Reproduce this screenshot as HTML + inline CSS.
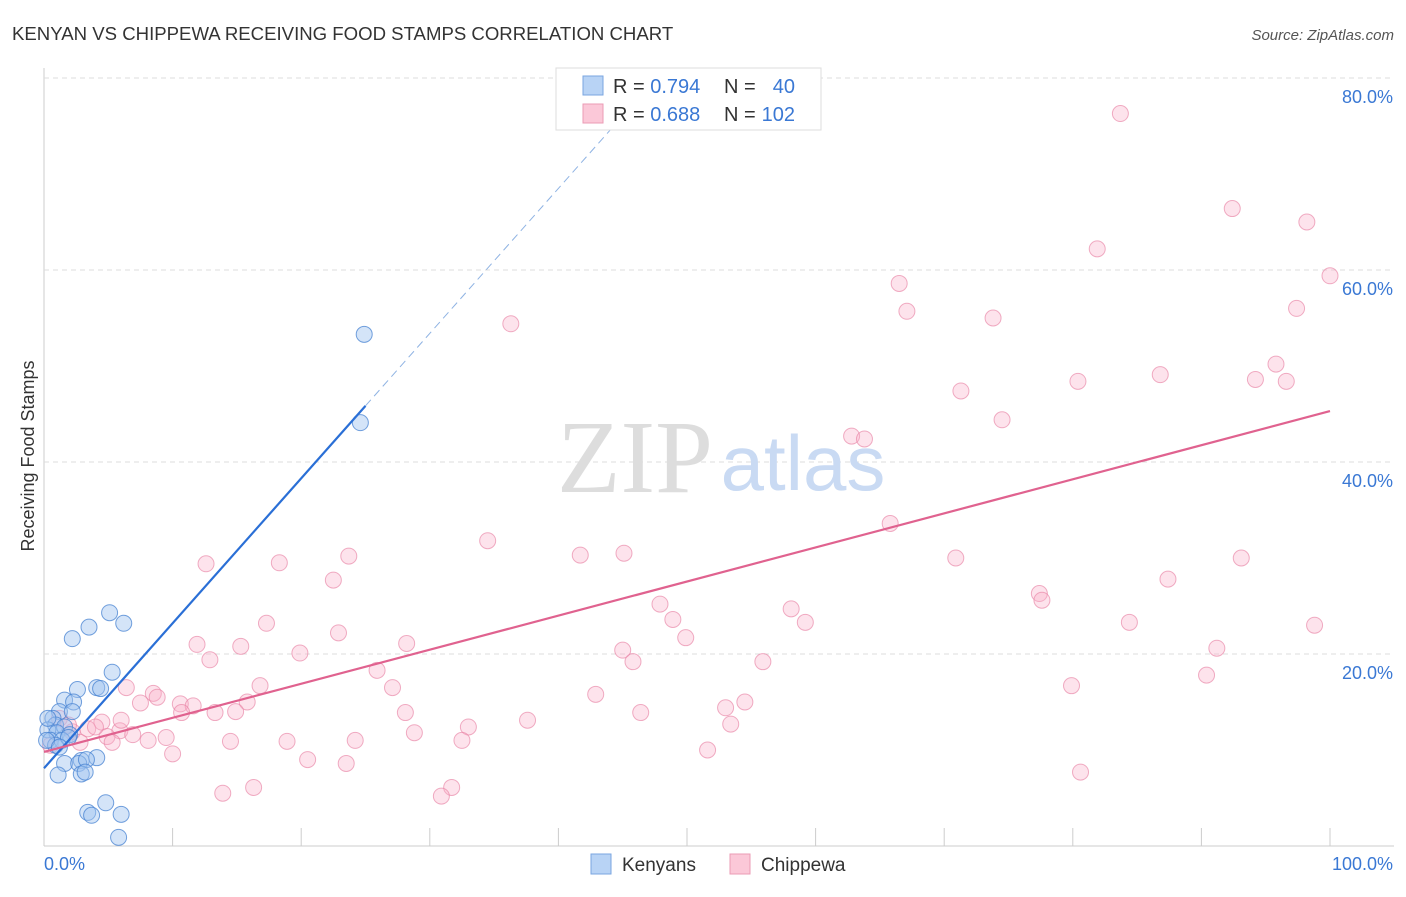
<!DOCTYPE html>
<html><head><meta charset="utf-8"><style>
body{margin:0;background:#fff;font-family:"Liberation Sans",sans-serif}
</style></head><body>
<svg id="c" width="1406" height="892" xmlns="http://www.w3.org/2000/svg">
<text x="12" y="40" font-size="18.6" fill="#333">KENYAN VS CHIPPEWA RECEIVING FOOD STAMPS CORRELATION CHART</text>
<text x="1394" y="40" font-size="15" fill="#555" font-style="italic" text-anchor="end">Source: ZipAtlas.com</text>
<text x="34" y="456" font-size="18" fill="#333" text-anchor="middle" transform="rotate(-90 34 456)">Receiving Food Stamps</text>
<g id="grid"></g>
<text x="635" y="492" font-size="104" fill="#ddd" font-family="Liberation Serif,serif" text-anchor="middle">ZIP</text>
<text x="803" y="490" font-size="78" fill="#c9daf3" text-anchor="middle">atlas</text>
<g id="pts"></g>
<g id="lines"></g>
<g>
<rect x="556" y="68" width="265" height="62" fill="#fff" stroke="#ddd"/>
<rect x="583" y="76" width="20" height="19" fill="#b8d3f5" stroke="#7aa6e0"/>
<rect x="583" y="104" width="20" height="19" fill="#fbc8d8" stroke="#eb9bb5"/>
<text x="613" y="93" font-size="20" fill="#333">R = <tspan fill="#3a78d4">0.794</tspan></text>
<text x="724" y="93" font-size="20" fill="#333">N =</text>
<text x="795" y="93" font-size="20" fill="#3a78d4" text-anchor="end">40</text>
<text x="613" y="121" font-size="20" fill="#333">R = <tspan fill="#3a78d4">0.688</tspan></text>
<text x="724" y="121" font-size="20" fill="#333">N =</text>
<text x="795" y="121" font-size="20" fill="#3a78d4" text-anchor="end">102</text>
</g>
<g>
<rect x="591" y="854" width="20" height="20" fill="#b8d3f5" stroke="#7aa6e0"/>
<text x="622" y="871" font-size="19" fill="#333">Kenyans</text>
<rect x="730" y="854" width="20" height="20" fill="#fbc8d8" stroke="#eb9bb5"/>
<text x="761" y="871" font-size="19" fill="#333">Chippewa</text>
</g>
</svg>
<script>
const yTicks=[20,40,60,80];
const xTickLabels=["0.0%","100.0%"];
const kenyanX=[24.9,24.6,5.1,6.2,3.5,2.2,5.3,4.1,4.4,2.6,1.6,2.3,1.2,2.2,0.7,0.9,1.6,0.3,1.0,2.0,0.5,1.4,0.9,2.9,1.6,4.1,2.7,3.3,1.1,2.9,3.2,4.8,3.4,3.7,6.0,5.8,0.3,0.2,1.9,1.2];
const kenyanY=[53.3,44.1,24.3,23.2,22.8,21.6,18.1,16.5,16.4,16.3,15.2,15.0,14.0,14.0,13.3,12.6,12.4,12.1,11.8,11.6,11.0,11.0,10.5,8.9,8.6,9.2,8.6,9.0,7.4,7.5,7.7,4.5,3.5,3.2,3.3,0.9,13.3,11.0,11.3,10.3];
const chipX=[83.7,92.4,98.2,81.9,100,66.5,67.1,73.8,97.4,36.3,95.8,86.8,80.4,94.2,96.6,71.3,74.5,62.8,63.8,65.8,34.5,23.7,41.7,45.1,70.9,93.1,12.6,18.3,22.5,87.4,77.4,77.6,47.9,58.1,48.9,59.2,84.4,17.3,98.8,22.9,49.9,11.9,28.2,15.3,45.0,91.2,19.9,12.9,45.8,55.9,25.9,90.4,79.9,6.4,16.8,27.1,42.9,8.5,8.8,7.5,15.8,54.5,10.6,11.6,53.0,28.1,10.7,13.3,14.9,46.4,37.6,4.5,33.0,53.4,3.4,5.9,2.2,28.8,6.9,4.9,9.5,14.5,18.9,8.1,24.2,32.5,51.6,10.0,20.5,23.5,80.6,31.7,16.3,13.9,30.9,1.2,0.5,1.9,2.8,5.3,4.0,6.0];
const chipY=[76.3,66.4,65.0,62.2,59.4,58.6,55.7,55.0,56.0,54.4,50.2,49.1,48.4,48.6,48.4,47.4,44.4,42.7,42.4,33.6,31.8,30.2,30.3,30.5,30.0,30.0,29.4,29.5,27.7,27.8,26.3,25.6,25.2,24.7,23.6,23.3,23.3,23.2,23.0,22.2,21.7,21.0,21.1,20.8,20.4,20.6,20.1,19.4,19.2,19.2,18.3,17.8,16.7,16.5,16.7,16.5,15.8,15.9,15.5,14.9,15.0,15.0,14.8,14.6,14.4,13.9,13.9,13.9,14.0,13.9,13.1,12.9,12.4,12.7,12.2,12.0,11.9,11.8,11.6,11.4,11.3,10.9,10.9,11.0,11.0,11.0,10.0,9.6,9.0,8.6,7.7,6.1,6.1,5.5,5.2,13.3,10.5,12.6,10.8,10.8,12.4,13.1];
const kenyanTrend=[8.1,1.51];
const chipTrend=[9.8,0.355];
const X=v=>44+v*12.86, Y=v=>846-v*9.6;
const NS="http://www.w3.org/2000/svg";
function mk(tag,attrs,parent){const e=document.createElementNS(NS,tag);for(const k in attrs)e.setAttribute(k,attrs[k]);parent.appendChild(e);return e;}
const grid=document.getElementById('grid');
mk('line',{x1:44,y1:68,x2:44,y2:846,stroke:'#ccc'},grid);
mk('line',{x1:44,y1:846,x2:1394,y2:846,stroke:'#ccc'},grid);
for(let i=1;i<=10;i++){const t=mk('line',{x1:X(i*10),y1:828,x2:X(i*10),y2:846,stroke:'#ccc'},grid);

}
yTicks.forEach(v=>{const l=mk('line',{x1:44,y1:Y(v),x2:1394,y2:Y(v),stroke:'#ddd','stroke-dasharray':'5,4'},grid);


const t=mk('text',{x:1393,y:Y(v)+25,'font-size':18,fill:'#3a78d4','text-anchor':'end'},grid);t.textContent=v.toFixed(1)+'%';

});
const xl0=mk('text',{x:44,y:870,'font-size':18,fill:'#3a78d4'},grid);xl0.textContent=xTickLabels[0];


const xl1=mk('text',{x:1393,y:870,'font-size':18,fill:'#3a78d4','text-anchor':'end'},grid);xl1.textContent=xTickLabels[1];


const pts=document.getElementById('pts');
chipX.forEach((x,i)=>{const c=mk('circle',{cx:X(x),cy:Y(chipY[i]),r:8,fill:'rgba(248,176,200,0.35)',stroke:'rgba(232,130,165,0.65)','stroke-width':1},pts);

});
kenyanX.forEach((x,i)=>{const c=mk('circle',{cx:X(x),cy:Y(kenyanY[i]),r:8,fill:'rgba(160,196,240,0.45)',stroke:'rgba(70,130,210,0.75)','stroke-width':1},pts);

});
const lines=document.getElementById('lines');
const kl=mk('line',{x1:X(0),y1:Y(kenyanTrend[0]),x2:X(25),y2:Y(kenyanTrend[0]+25*kenyanTrend[1]),stroke:'#2a6fd6','stroke-width':2.2},lines);


const kd=mk('line',{x1:X(25),y1:Y(kenyanTrend[0]+25*kenyanTrend[1]),x2:X(45),y2:Y(kenyanTrend[0]+45*kenyanTrend[1]),stroke:'#8fb3e3','stroke-width':1,'stroke-dasharray':'8,5'},lines);


const cl=mk('line',{x1:X(0),y1:Y(chipTrend[0]),x2:X(100),y2:Y(chipTrend[0]+100*chipTrend[1]),stroke:'#e0628f','stroke-width':2.2},lines);


</script>
</body></html>
